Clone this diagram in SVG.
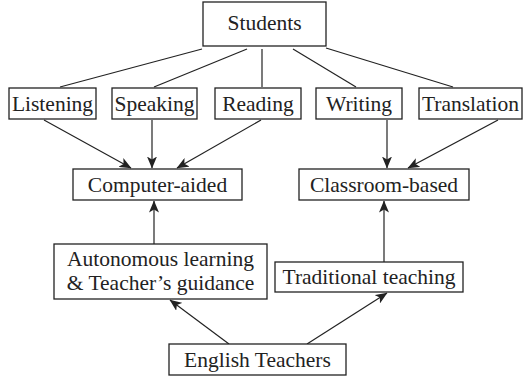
<svg xmlns="http://www.w3.org/2000/svg" width="525" height="381" viewBox="0 0 525 381">
<style>
rect{fill:#fff;stroke:#222;stroke-width:1.3}
text{font-family:'Liberation Serif','Tinos','DejaVu Serif',serif;font-size:21.5px;fill:#222;text-anchor:middle}
.c line{stroke:#222;stroke-width:1.2}
.a{marker-end:url(#ah)}
</style>
<defs>
<marker id="ah" viewBox="0 0 12 10" refX="11.5" refY="5" markerWidth="12" markerHeight="10" markerUnits="userSpaceOnUse" orient="auto">
<path d="M0,0 L12,5 L0,10 L3,5 z" fill="#222"/>
</marker>
</defs>
<rect x="0" y="0" width="525" height="381" style="stroke:none;fill:#fff"/>
<g class="c">
<line x1="202" y1="49" x2="60" y2="87"/>
<line x1="247" y1="49" x2="154" y2="87"/>
<line x1="262" y1="49" x2="262" y2="87"/>
<line x1="293" y1="49" x2="356" y2="87"/>
<line x1="326" y1="48" x2="453" y2="87"/>
<line class="a" x1="44" y1="120" x2="131" y2="168"/>
<line class="a" x1="152" y1="120" x2="152" y2="168"/>
<line class="a" x1="261" y1="120" x2="177" y2="168"/>
<line class="a" x1="387" y1="120" x2="387" y2="168"/>
<line class="a" x1="498" y1="120" x2="408" y2="168"/>
<line class="a" x1="154" y1="244" x2="154" y2="201"/>
<line class="a" x1="384" y1="262" x2="384" y2="201"/>
<line class="a" x1="229" y1="344" x2="170" y2="300"/>
<line class="a" x1="307" y1="344" x2="387" y2="293"/>
</g>
<g id="students"><rect x="203" y="2" width="123" height="44"/><text x="264.5" y="30">Students</text></g>
<g id="listening"><rect x="9" y="88" width="87" height="31"/><text x="52.5" y="110.5">Listening</text></g>
<g id="speaking"><rect x="112" y="88" width="85" height="31"/><text x="154.5" y="110.5">Speaking</text></g>
<g id="reading"><rect x="215" y="88" width="86" height="31"/><text x="258" y="110.5">Reading</text></g>
<g id="writing"><rect x="316" y="88" width="86" height="31"/><text x="359" y="110.5">Writing</text></g>
<g id="translation"><rect x="419" y="88" width="103" height="31"/><text x="470.5" y="110.5">Translation</text></g>
<g id="computer"><rect x="73" y="169" width="169" height="31"/><text x="157.5" y="191.5">Computer-aided</text></g>
<g id="classroom"><rect x="299" y="169" width="170" height="31"/><text x="384" y="191.5">Classroom-based</text></g>
<g id="autonomous"><rect x="54" y="244" width="213" height="55"/><text x="160.5" y="266">Autonomous learning</text><text x="160.5" y="289.5">&amp; Teacher’s guidance</text></g>
<g id="traditional"><rect x="275" y="262" width="188" height="30"/><text x="369" y="283.5">Traditional teaching</text></g>
<g id="english"><rect x="169" y="344" width="177" height="31"/><text x="257.5" y="366.5">English Teachers</text></g>
</svg>
